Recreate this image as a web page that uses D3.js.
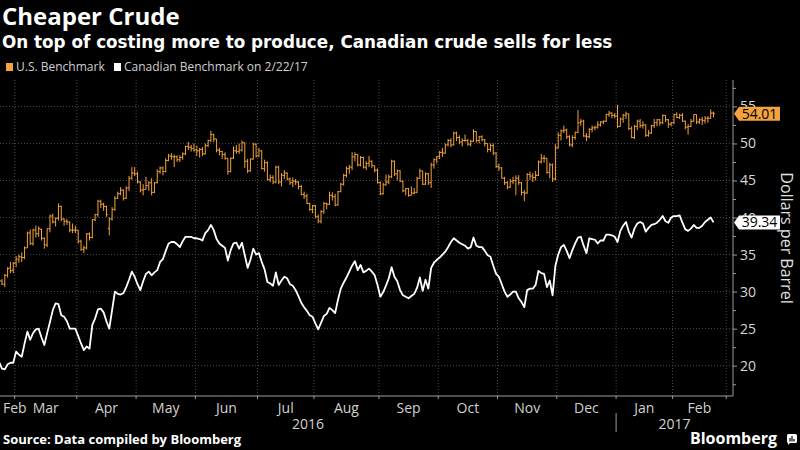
<!DOCTYPE html>
<html>
<head>
<meta charset="utf-8">
<script src="https://cdn.jsdelivr.net/npm/d3@7"></script>
<style>
  body { margin: 0; background: #000; }
  svg { display: block; font-family: "Open Sans", sans-serif; }
</style>
</head>
<body>
<div id="chart"></div>
<script>
// trading calendar (NYMEX), one year ending 2/22/17 plus a few empty days on the axis
const firstDay = "2016-02-22";
const lastAxisDay = "2017-03-03";
const holidays = ["2016-03-25", "2016-05-30", "2016-07-04", "2016-09-05", "2016-11-24",
                  "2016-12-26", "2017-01-02", "2017-01-16", "2017-02-20"];

const yTicks = [20, 25, 30, 35, 40, 45, 50, 55];
const yearLabels = ["2016", "2017"];

// U.S. benchmark, daily [open, high, low, close]
const usBars = [
  [29.8,31.6,29.6,31.5],[31.4,31.7,30.9,31.0],[31.0,32.4,30.6,32.2],[32.2,33.3,31.9,33.1],[33.2,34.0,32.5,32.8],[32.9,34.0,32.5,33.8],
  [33.9,34.8,33.3,34.4],[34.3,35.0,33.9,34.7],[34.7,35.3,34.0,34.6],[34.6,36.1,34.4,35.9],[35.9,38.1,35.9,37.9],[37.9,38.4,36.3,36.5],
  [36.5,38.5,36.2,38.3],[38.3,38.9,37.3,37.8],[37.8,38.8,37.4,38.5],[38.4,38.5,36.9,37.2],[37.2,37.3,35.8,36.3],[36.3,38.5,36.0,38.5],
  [38.5,40.4,38.0,40.2],[40.2,40.5,39.2,39.4],[39.4,40.0,38.8,39.9],[39.9,41.9,39.6,41.5],[41.5,41.6,39.5,39.8],[39.8,39.9,38.9,39.5],
  [39.5,39.8,39.0,39.4],[39.4,39.5,38.0,38.3],[38.3,39.2,37.9,38.3],[38.3,38.9,37.9,38.3],
  [38.3,38.3,36.5,36.8],[36.8,37.0,35.5,35.7],[35.7,36.2,35.2,35.9],[35.9,37.9,35.7,37.8],[37.8,38.0,36.9,37.3],[37.3,39.8,37.2,39.7],
  [39.7,40.5,39.5,40.4],[40.4,42.4,40.1,42.2],[42.2,42.4,41.3,41.8],[41.8,42.0,40.9,41.5],[41.5,41.6,40.1,40.4],[38.5,40.0,37.6,39.8],
  [39.8,41.4,39.6,41.1],[41.1,42.9,40.9,42.6],[42.6,43.5,42.5,43.2],[43.2,44.1,43.0,43.7],[43.7,43.8,42.3,42.6],[42.6,44.2,42.5,44.0],
  [44.0,45.6,43.6,45.3],[45.3,46.8,45.1,46.0],[46.0,46.8,45.6,45.9],
  [45.9,46.2,44.6,44.8],[44.8,44.9,43.4,43.7],[43.7,44.5,43.0,43.8],[43.8,45.5,43.8,44.3],[44.3,44.9,43.6,44.7],[44.7,45.3,43.0,43.4],
  [43.4,44.8,43.3,44.7],[44.7,46.5,44.6,46.2],[46.2,46.9,45.9,46.7],[46.7,46.9,45.7,46.2],[46.2,48.0,46.1,47.7],[47.7,48.6,47.6,48.3],
  [48.3,48.7,47.8,48.2],[48.2,48.5,46.8,48.2],[48.2,48.4,47.5,47.8],[47.8,48.4,47.5,48.1],[48.1,48.8,47.8,48.6],[48.6,49.7,48.4,49.6],
  [49.6,50.2,49.1,49.5],[49.5,49.8,48.9,49.3],[49.3,50.0,48.9,49.1],
  [49.1,49.7,48.3,49.0],[49.0,49.4,48.1,49.2],[49.2,49.5,48.3,48.6],[48.6,50.0,48.5,49.7],[49.7,50.5,49.5,50.4],[50.4,51.7,50.2,51.2],
  [51.2,51.3,50.2,50.6],[50.6,50.6,48.8,49.1],[49.1,49.4,48.4,48.9],[48.9,49.0,47.9,48.5],[48.5,48.8,47.8,48.0],[48.0,48.0,45.8,46.2],
  [46.2,48.1,46.1,48.0],[48.0,49.6,47.9,49.0],[49.0,49.8,48.6,48.9],[48.9,50.0,48.6,49.1],[49.1,50.4,48.9,50.1],[50.1,50.1,46.7,47.6],
  [47.6,47.9,46.0,46.3],[46.3,48.0,46.2,47.9],[47.9,50.1,47.8,49.9],[49.9,50.0,48.1,48.3],
  [48.3,49.4,48.2,49.0],[49.0,49.1,46.5,46.6],[46.6,47.8,46.2,47.4],[47.4,47.6,45.0,45.1],[45.1,45.8,44.8,45.4],[45.4,45.7,44.5,44.8],
  [44.8,47.0,44.6,46.8],[46.8,47.0,44.5,44.8],[44.8,46.0,44.2,45.7],[45.7,46.4,45.2,46.0],[46.0,46.1,45.0,45.2],[45.2,45.4,44.4,44.7],
  [44.7,45.4,44.1,44.9],[44.9,45.2,44.4,44.8],[44.8,44.9,43.8,44.2],[44.2,44.4,43.0,43.1],[43.1,43.5,42.5,42.9],[42.9,43.2,41.8,41.9],
  [41.9,42.0,40.9,41.1],[41.1,41.7,40.6,41.6],
  [41.6,41.7,39.9,40.1],[40.1,40.4,39.2,39.5],[39.5,41.0,39.2,40.8],[40.8,42.1,40.5,41.9],[41.9,42.0,41.1,41.8],[41.8,43.5,41.7,43.0],
  [43.0,43.4,42.3,42.8],[42.8,43.2,41.5,41.7],[41.7,43.6,41.6,43.5],[43.5,44.7,43.4,44.5],[44.5,45.9,44.3,45.7],[45.7,46.9,45.4,46.6],
  [46.6,47.1,45.9,46.8],[46.8,48.8,46.4,48.2],[48.2,48.8,47.6,48.5],[48.5,48.6,46.9,47.1],[47.1,48.3,46.9,48.1],[48.1,48.2,46.6,46.8],
  [46.8,47.6,46.4,47.3],[47.3,48.3,46.8,47.6],[47.6,47.7,46.7,47.0],[47.0,47.0,46.1,46.4],[46.4,46.6,44.6,44.7],
  [44.7,44.9,43.0,43.2],[43.2,44.7,43.1,44.4],[44.4,45.8,44.3,44.8],[44.8,45.8,44.5,45.5],[45.5,47.8,45.3,47.6],[47.6,47.7,45.6,45.9],
  [45.9,46.5,45.0,46.3],[46.3,46.4,44.8,44.9],[44.9,45.0,43.4,43.6],[43.6,44.0,43.0,43.9],[43.9,44.0,42.8,43.0],[43.0,44.2,43.0,43.3],
  [43.3,44.0,43.1,43.4],[43.4,45.5,43.3,45.3],[45.3,46.6,45.2,46.3],[46.3,46.3,44.4,44.5],[44.5,46.1,44.4,45.9],[45.9,46.0,44.4,44.7],
  [44.7,47.4,44.0,47.1],[47.1,48.0,46.6,47.8],[47.8,48.3,47.3,48.2],
  [48.2,49.0,47.9,48.8],[48.8,49.4,48.2,48.7],[48.7,50.0,48.6,49.8],[49.8,50.6,49.6,50.4],[50.4,50.7,49.5,49.8],[49.8,51.6,49.7,51.4],
  [51.4,51.6,50.3,50.8],[50.8,51.1,49.9,50.2],[50.2,50.7,49.6,50.4],[50.4,51.2,50.2,50.4],[50.4,50.6,49.7,49.9],[49.9,50.5,49.6,50.3],
  [50.3,51.9,50.2,51.6],[51.6,51.6,50.1,50.4],[50.4,51.0,50.0,50.9],[50.9,51.1,50.3,50.5],[50.5,50.6,49.6,50.0],[50.0,50.0,48.8,49.2],
  [49.2,50.0,48.9,49.7],[49.7,50.0,48.4,48.7],[48.7,48.8,46.7,46.9],
  [46.9,47.3,46.3,46.7],[46.7,46.8,45.3,45.3],[45.3,45.5,44.4,44.7],[44.7,44.9,43.8,44.1],[44.1,45.2,44.0,44.9],[44.9,45.5,44.5,45.0],
  [45.0,45.7,43.0,45.3],[45.3,45.7,44.4,44.7],[44.7,44.8,43.0,43.4],[43.4,43.7,42.2,43.3],[43.3,46.0,43.2,45.8],[45.8,46.2,45.1,45.6],
  [45.6,46.0,44.8,45.4],[45.4,46.3,45.0,45.7],[45.7,47.7,45.6,47.5],[47.5,48.6,47.3,48.0],[48.0,48.4,47.4,48.0],[48.0,48.0,45.9,46.1],
  [46.1,47.4,45.3,47.1],[47.1,47.3,44.8,45.2],[45.2,49.9,45.0,49.4],
  [49.4,51.5,49.3,51.1],[51.1,51.9,50.4,51.7],[51.7,52.4,51.4,51.8],[51.8,52.0,50.6,50.9],[50.9,51.1,49.6,49.8],[49.8,51.1,49.5,50.8],
  [50.8,51.6,50.5,51.5],[51.5,54.5,51.4,52.8],[52.8,53.3,52.4,53.0],[53.0,53.2,50.9,51.0],[51.0,51.4,50.3,50.9],[50.9,52.1,50.7,51.9],
  [51.9,52.4,51.5,52.1],[52.1,52.4,51.8,52.2],[52.2,53.0,52.0,52.5],[52.5,53.0,52.3,52.9],[52.9,53.1,52.6,53.0],[53.0,54.0,52.9,53.9],
  [53.9,54.4,53.6,54.1],[54.1,54.2,53.4,53.8],[53.8,54.1,53.4,53.7],
  [53.7,55.2,52.1,52.3],[52.3,53.5,52.3,53.3],[53.3,54.0,52.8,53.8],[53.8,54.3,53.3,54.0],[54.0,54.0,51.8,52.0],[52.0,52.3,50.7,50.8],
  [50.8,52.5,50.6,52.3],[52.3,53.2,51.8,53.0],[53.0,53.3,52.1,52.4],[52.4,53.0,52.0,52.5],[52.5,52.6,50.9,51.1],[51.1,51.8,50.9,51.4],
  [51.4,52.5,51.3,52.4],[52.4,53.3,52.1,52.8],[52.8,53.3,52.3,53.2],[53.2,53.3,52.4,52.8],[52.8,53.9,52.6,53.8],[53.8,53.8,52.9,53.2],
  [53.2,53.3,52.1,52.6],[52.6,52.9,52.3,52.8],
  [52.8,54.0,52.6,53.9],[53.9,54.2,53.4,53.5],[53.5,54.0,53.3,53.8],[53.8,54.1,52.9,53.0],[53.0,53.1,51.9,52.2],[52.2,52.6,51.2,52.3],
  [52.3,53.3,52.2,53.0],[53.0,53.9,52.9,53.9],[53.9,53.9,52.6,52.9],[52.9,53.4,52.6,53.2],[53.2,53.6,52.5,53.1],[53.1,53.7,52.7,53.4],
  [53.4,53.7,52.8,53.4],[53.4,54.6,53.3,54.1],[54.1,54.3,53.5,54.01]
];

// Canadian benchmark, daily close
const caValues = [
  20.5,19.6,19.5,20.2,20.4,20.4,
  21.9,21.5,21.2,23.0,24.6,23.5,24.4,24.9,25.0,23.8,22.8,24.4,25.9,27.5,28.4,28.3,26.8,26.6,26.0,25.0,25.0,25.0,
  24.0,23.0,22.1,22.6,22.3,25.5,26.4,27.6,27.7,27.2,26.0,25.0,27.5,30.0,29.7,29.6,29.8,30.6,31.6,32.7,32.0,
  31.0,30.2,31.4,32.4,32.7,32.2,32.6,32.9,34.0,34.4,35.5,36.5,36.7,36.7,36.4,36.0,36.8,37.4,37.4,37.4,37.2,
  37.2,37.1,36.9,37.9,38.3,39.0,38.3,37.1,36.5,36.2,35.9,34.2,35.6,36.5,36.6,35.8,36.6,34.9,33.2,34.3,35.8,35.0,
  35.2,34.0,33.0,31.3,31.1,30.8,32.6,30.9,31.5,32.0,31.8,31.0,30.8,30.2,29.4,28.5,27.9,27.4,26.8,26.6,
  25.7,24.9,25.8,26.7,27.0,27.8,27.5,27.1,28.9,30.4,31.2,31.9,32.7,33.5,34.1,32.9,33.6,32.6,32.8,33.1,32.7,32.2,30.9,
  29.3,29.9,30.8,31.8,33.3,32.0,31.4,30.2,29.5,29.3,29.1,29.4,29.7,30.5,31.9,30.1,31.6,30.4,33.2,33.9,34.3,
  34.6,35.0,35.4,36.0,36.7,37.2,36.9,36.6,36.4,36.2,35.8,36.0,37.3,36.2,36.0,36.0,35.5,34.9,34.7,33.5,32.4,
  32.0,31.0,30.0,29.3,29.6,30.0,30.0,29.1,28.6,27.9,30.2,30.4,30.4,30.9,32.8,32.5,32.4,30.6,31.5,29.5,33.5,
  35.0,36.0,36.3,35.5,34.5,35.6,36.5,37.3,37.4,36.2,35.2,37.2,37.1,37.0,36.5,36.9,36.9,37.7,37.7,37.6,37.4,
  36.7,38.2,38.9,39.4,38.1,37.3,38.5,39.2,39.4,39.2,38.1,38.6,39.0,39.1,39.3,39.7,40.2,39.5,39.3,40.0,
  40.2,40.2,40.3,39.3,38.4,38.2,38.5,39.0,38.6,38.6,38.9,39.4,39.7,40.0,39.34
];

const orange = "#f3a23e";
const width = 800, height = 450;
const plotTop = 80, plotBottom = 396, plotRight = 733;

const parse = d3.timeParse("%Y-%m-%d");
const fmtDay = d3.timeFormat("%Y-%m-%d");
const axisDays = d3.timeDay.range(parse(firstDay), d3.timeDay.offset(parse(lastAxisDay), 1))
  .filter(d => d.getDay() !== 0 && d.getDay() !== 6 && !holidays.includes(fmtDay(d)));

// index of the first trading day of each month
const monthStarts = [];
axisDays.forEach((d, i) => {
  if (i > 0 && d.getMonth() !== axisDays[i - 1].getMonth()) monthStarts.push({ i: i, date: d });
});

const x = d3.scaleLinear().domain([0.3, 259.9]).range([0, plotRight]);
const y = d3.scaleLinear().domain([20, 55]).range([365.7, 106.4]);

const svg = d3.select("#chart").append("svg")
  .attr("width", width)
  .attr("height", height);

svg.append("rect").attr("width", width).attr("height", height).attr("fill", "#000");

svg.append("defs").append("clipPath").attr("id", "plot-clip")
  .append("rect").attr("x", 0).attr("y", plotTop).attr("width", plotRight).attr("height", plotBottom - plotTop);

// titles
svg.append("text").attr("x", 2).attr("y", 25)
  .attr("fill", "#fff").attr("font-size", 24).attr("font-weight", 700)
  .text("Cheaper Crude");
svg.append("text").attr("x", 2).attr("y", 48)
  .attr("fill", "#fff").attr("font-size", 16.8).attr("font-weight", 700)
  .attr("font-family", "DejaVu Sans, sans-serif")
  .text("On top of costing more to produce, Canadian crude sells for less");

// legend
const legend = [
  { label: "U.S. Benchmark", color: orange, x: 6 },
  { label: "Canadian Benchmark on 2/22/17", color: "#fff", x: 114 }
];
const lg = svg.append("g").selectAll("g").data(legend).join("g");
lg.append("rect").attr("x", d => d.x).attr("y", 63).attr("width", 7).attr("height", 8).attr("fill", d => d.color);
lg.append("text").attr("x", d => d.x + 10).attr("y", 71)
  .attr("fill", "#cfcfcf").attr("font-size", 12)
  .text(d => d.label);

// grid
const grid = svg.append("g");
grid.selectAll("line.h")
  .data(yTicks)
  .join("line")
  .attr("class", "h")
  .attr("x1", 0).attr("x2", plotRight)
  .attr("y1", d => y(d)).attr("y2", d => y(d))
  .attr("stroke", "#4a4a4a").attr("stroke-dasharray", "1,2");
grid.selectAll("line.v")
  .data(monthStarts)
  .join("line")
  .attr("class", "v")
  .attr("x1", d => x(d.i - 0.5)).attr("x2", d => x(d.i - 0.5))
  .attr("y1", plotTop).attr("y2", plotBottom)
  .attr("stroke", "#4a4a4a").attr("stroke-dasharray", "1,2");

// bottom axis
svg.append("line").attr("x1", 0).attr("x2", plotRight).attr("y1", plotBottom).attr("y2", plotBottom)
  .attr("stroke", "#9a9a9a");
svg.append("g").selectAll("line")
  .data(monthStarts)
  .join("line")
  .attr("x1", d => x(d.i - 0.5)).attr("x2", d => x(d.i - 0.5))
  .attr("y1", plotBottom).attr("y2", plotBottom + 3)
  .attr("stroke", "#9a9a9a");

// month labels centred in each month span
const monthSpans = [{ i: 0.3, date: axisDays[0] }].concat(monthStarts.map(m => ({ i: m.i - 0.5, date: m.date })));
const monthLabels = monthSpans.slice(0, -1).map((m, k) => ({
  name: d3.timeFormat("%b")(m.date),
  x0: x(m.i), x1: x(monthSpans[k + 1].i)
}));
svg.append("g").selectAll("text")
  .data(monthLabels)
  .join("text")
  .attr("x", (d, k) => k === 0 ? 3 : (d.x0 + d.x1) / 2)
  .attr("y", 413)
  .attr("text-anchor", (d, k) => k === 0 ? "start" : "middle")
  .attr("fill", "#d0d0d0").attr("font-size", 14)
  .text(d => d.name);

// year labels
const janStart = monthStarts.find(m => m.date.getMonth() === 0);
const yearX = [(0 + x(janStart.i - 0.5)) / 2, (x(janStart.i - 0.5) + plotRight) / 2];
svg.append("g").selectAll("text")
  .data(yearLabels)
  .join("text")
  .attr("x", (d, k) => yearX[k])
  .attr("y", 429)
  .attr("text-anchor", "middle")
  .attr("fill", "#d0d0d0").attr("font-size", 14)
  .text(d => d);
svg.append("line")
  .attr("x1", x(janStart.i - 0.5)).attr("x2", x(janStart.i - 0.5))
  .attr("y1", 413).attr("y2", 432)
  .attr("stroke", "#9a9a9a");

// right axis
svg.append("line").attr("x1", plotRight).attr("x2", plotRight).attr("y1", plotTop).attr("y2", plotBottom)
  .attr("stroke", "#9a9a9a");
const yAxis = svg.append("g")
  .attr("transform", `translate(${plotRight},0)`)
  .call(d3.axisRight(y).tickValues(yTicks).tickSize(4).tickPadding(3));
yAxis.select(".domain").remove();
yAxis.selectAll("line").attr("stroke", "#9a9a9a");
yAxis.selectAll("text").attr("fill", "#d8d8d8").attr("font-size", 14).attr("font-family", "Open Sans, sans-serif");
const yMinor = svg.append("g")
  .attr("transform", `translate(${plotRight},0)`)
  .call(d3.axisRight(y).tickValues(d3.range(17.5, 58, 5)).tickSize(3).tickFormat(""));
yMinor.select(".domain").remove();
yMinor.selectAll("line").attr("stroke", "#9a9a9a");

svg.append("text")
  .attr("transform", `translate(781,238) rotate(90)`)
  .attr("text-anchor", "middle")
  .attr("fill", "#e0e0e0").attr("font-size", 16)
  .text("Dollars per Barrel");

// series
const plot = svg.append("g").attr("clip-path", "url(#plot-clip)");

const bars = plot.append("g")
  .attr("stroke", orange).attr("stroke-width", 1)
  .selectAll("g")
  .data(usBars)
  .join("g");
bars.append("line")
  .attr("x1", (d, i) => x(i)).attr("x2", (d, i) => x(i))
  .attr("y1", d => y(d[1])).attr("y2", d => y(d[2]));
bars.append("line")
  .attr("x1", (d, i) => x(i) - 1.4).attr("x2", (d, i) => x(i))
  .attr("y1", d => y(d[0])).attr("y2", d => y(d[0]));
bars.append("line")
  .attr("x1", (d, i) => x(i)).attr("x2", (d, i) => x(i) + 1.4)
  .attr("y1", d => y(d[3])).attr("y2", d => y(d[3]));

plot.append("path")
  .datum(caValues)
  .attr("fill", "none")
  .attr("stroke", "#fff")
  .attr("stroke-width", 1.8)
  .attr("stroke-linejoin", "round")
  .attr("d", d3.line().x((d, i) => x(i)).y(d => y(d)));

// last value tags
const lastTags = [
  { value: usBars[usBars.length - 1][3], color: orange },
  { value: caValues[caValues.length - 1], color: "#fff" }
];
const tags = svg.append("g").selectAll("g").data(lastTags).join("g")
  .attr("transform", d => `translate(${plotRight + 1},${y(d.value)})`);
tags.append("path")
  .attr("d", "M0,0 L5,-7 L46,-7 L46,7 L5,7 Z")
  .attr("fill", d => d.color);
tags.append("text")
  .attr("x", 25.5).attr("y", 5)
  .attr("text-anchor", "middle")
  .attr("fill", "#000").attr("font-size", 14)
  .text(d => d3.format(".2f")(d.value));

// footer
svg.append("text").attr("x", 3).attr("y", 444)
  .attr("fill", "#fff").attr("font-size", 13).attr("font-weight", 700)
  .text("Source: Data compiled by Bloomberg");
svg.append("text").attr("x", 777).attr("y", 444)
  .attr("text-anchor", "end")
  .attr("fill", "#fff").attr("font-size", 16).attr("font-weight", 700)
  .text("Bloomberg");
const logo = svg.append("g").attr("transform", "translate(787,434)");
logo.append("rect").attr("width", 10).attr("height", 9).attr("rx", 1.5).attr("fill", "#fff");
logo.append("path").attr("d", "M1,8 L1,11 L4,8 Z").attr("fill", "#fff");
logo.selectAll("line.b").data([[3, 4], [5, 2], [7, 5]]).join("line")
  .attr("x1", d => d[0]).attr("x2", d => d[0]).attr("y1", d => d[1]).attr("y2", 7.5)
  .attr("stroke", "#000").attr("stroke-width", 1.2);
</script>
</body>
</html>
